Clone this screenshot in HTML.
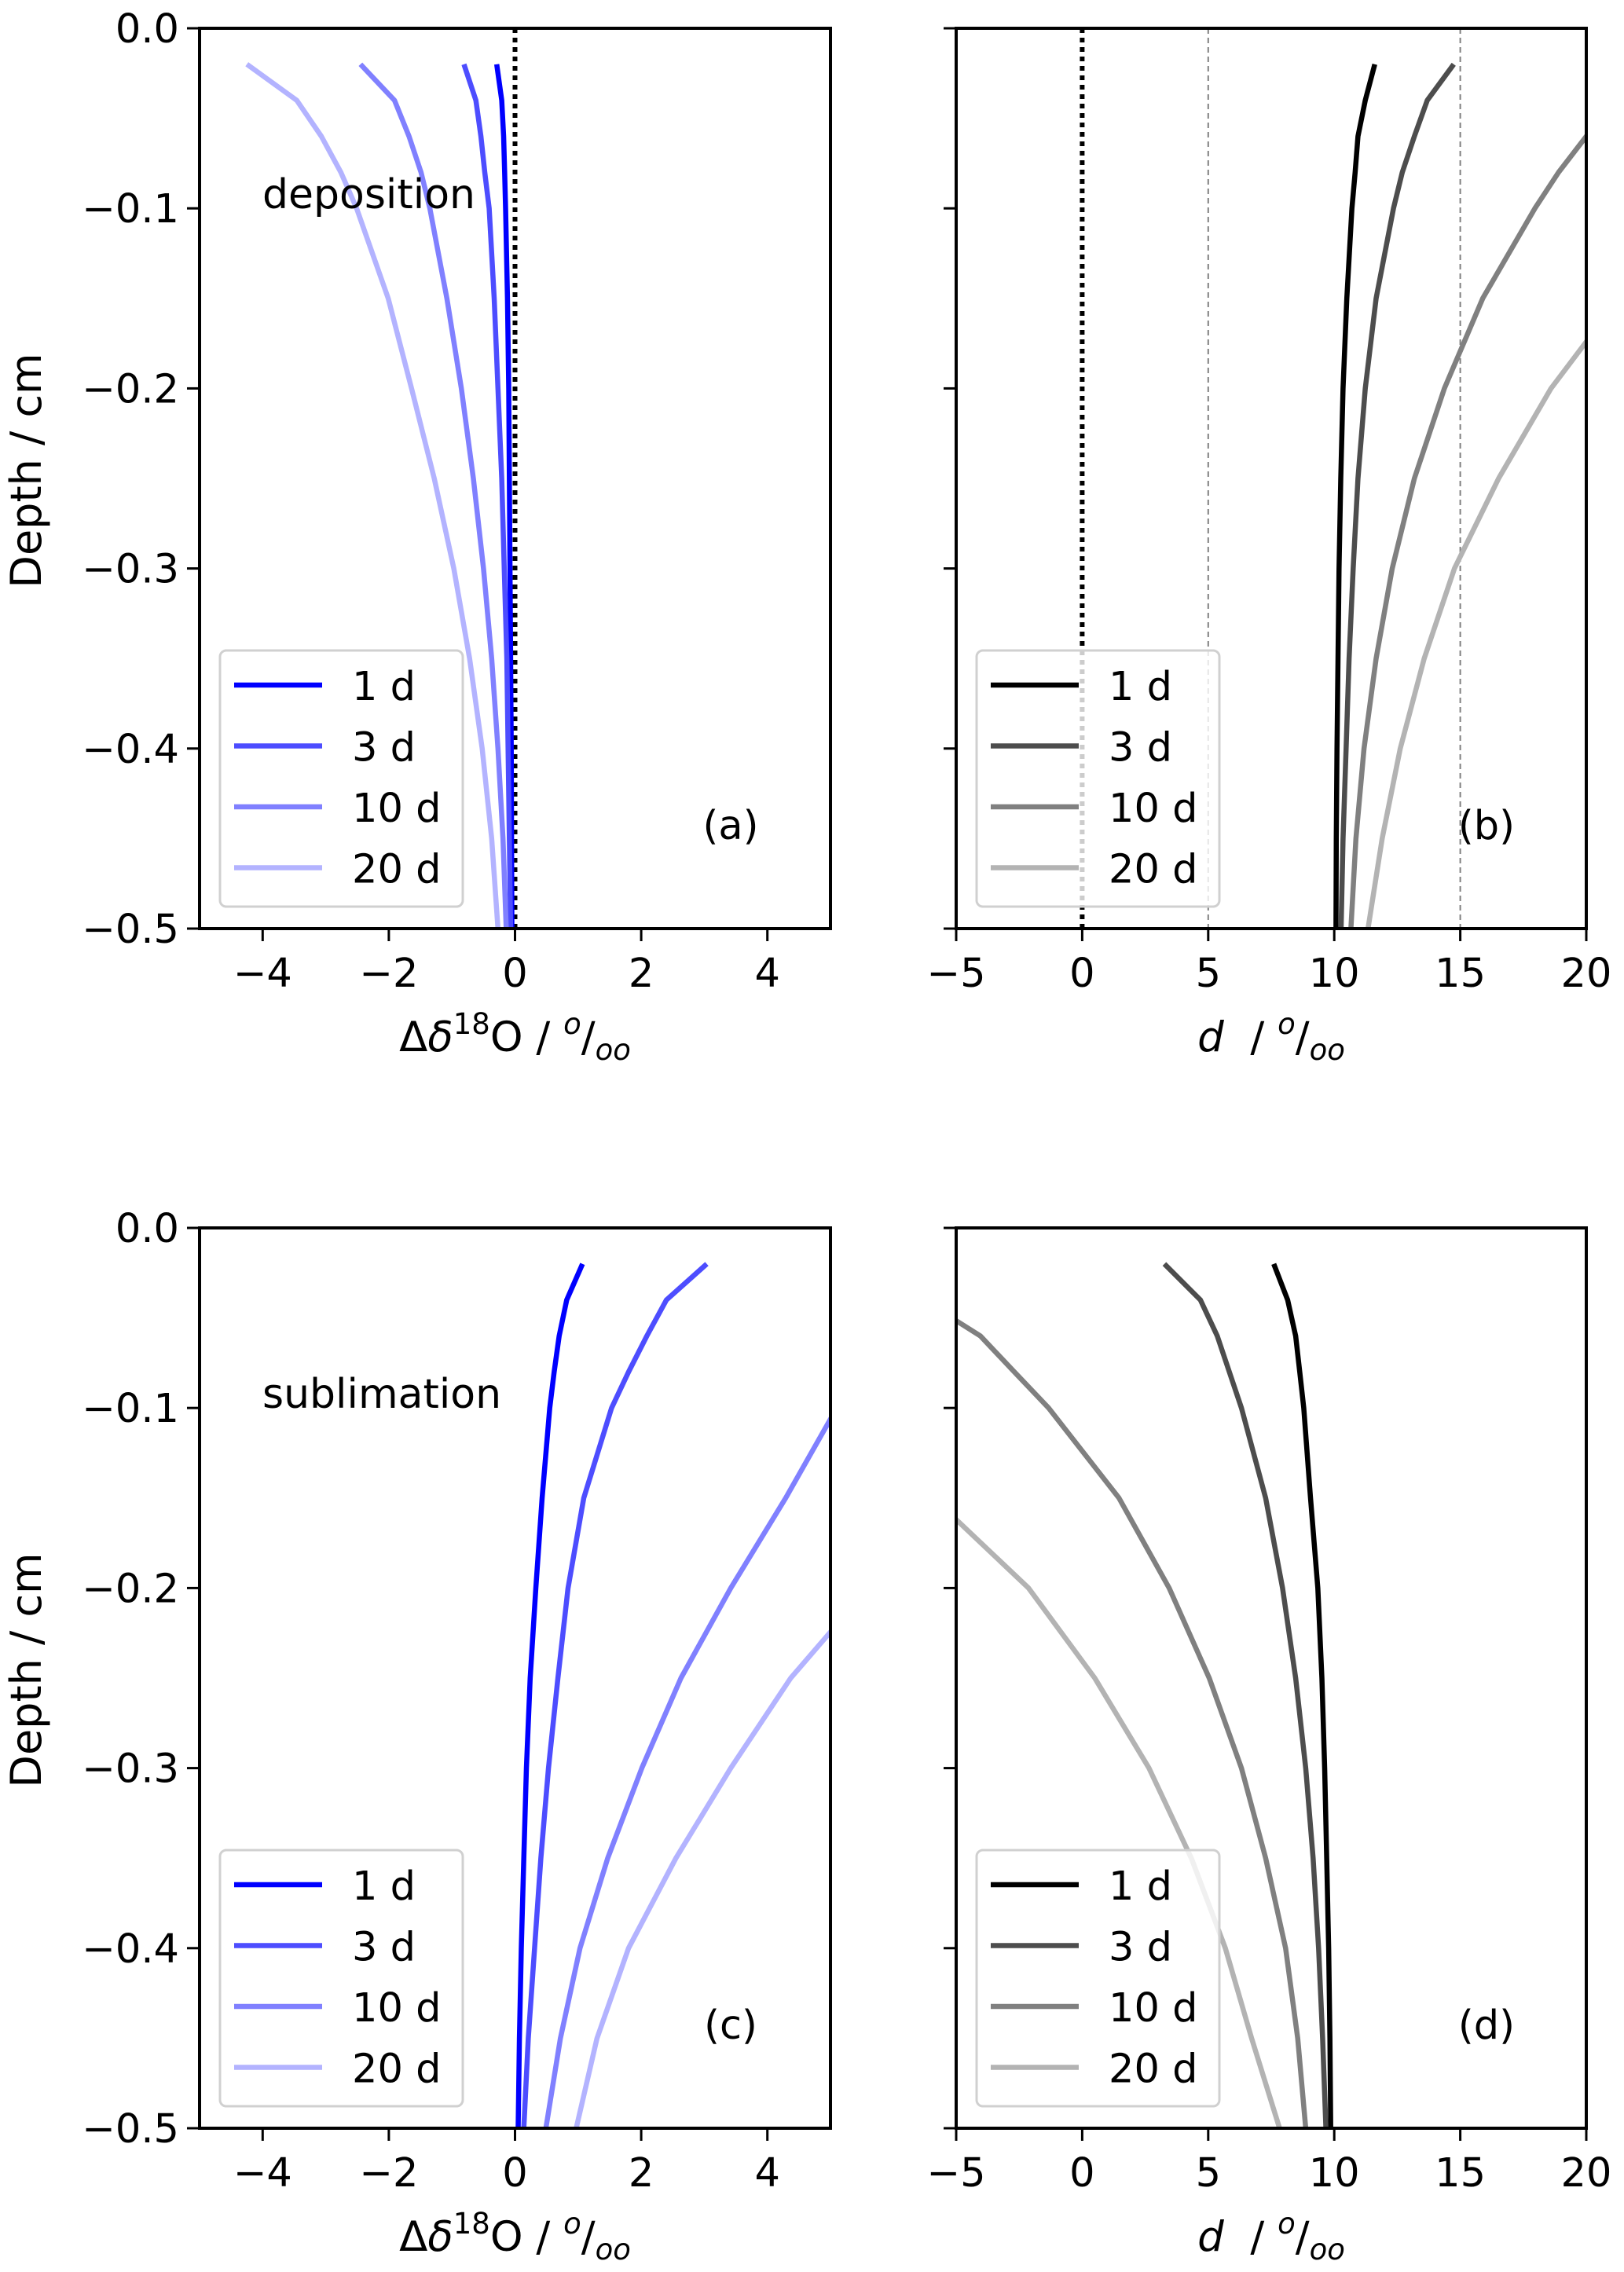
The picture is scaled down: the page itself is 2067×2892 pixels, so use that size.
<!DOCTYPE html>
<html><head><meta charset="utf-8">
<style>
html,body{margin:0;padding:0;background:#fff;}
svg{display:block;font-family:"DejaVu Sans","Liberation Sans",sans-serif;}
</style></head>
<body>
<svg id="fig" width="2067" height="2892" viewBox="0 0 2067 2892" xmlns="http://www.w3.org/2000/svg"></svg>
<script>
const depths = [-0.02,-0.04,-0.06,-0.08,-0.1,-0.15,-0.2,-0.25,-0.3,-0.35,-0.4,-0.45,-0.5];
const seriesLabels = ["1 d","3 d","10 d","20 d"];
// (a) deposition d18O
const a1 = [-0.29,-0.21,-0.18,-0.165,-0.15,-0.12,-0.1,-0.09,-0.08,-0.07,-0.06,-0.055,-0.05];
const a3 = [-0.81,-0.62,-0.54,-0.48,-0.41,-0.33,-0.27,-0.21,-0.17,-0.13,-0.11,-0.09,-0.07];
const a10 = [-2.45,-1.91,-1.68,-1.49,-1.35,-1.08,-0.85,-0.66,-0.5,-0.37,-0.27,-0.19,-0.14];
const a20 = [-4.25,-3.46,-3.07,-2.76,-2.51,-2.01,-1.64,-1.28,-0.97,-0.72,-0.52,-0.37,-0.27];
// (b) deposition d-excess
const b1 = [11.61,11.23,10.94,10.83,10.7,10.5,10.35,10.26,10.19,10.15,10.11,10.08,10.07];
const b3 = [14.74,13.69,13.18,12.7,12.35,11.66,11.23,10.94,10.75,10.59,10.47,10.35,10.27];
const b10 = [22.8,21.3,20.0,18.9,17.96,15.89,14.37,13.18,12.3,11.66,11.18,10.86,10.66];
const b20 = [28.8,27.6,26.4,25.2,24.0,21.3,18.6,16.52,14.77,13.57,12.62,11.9,11.34];
// (c) sublimation d18O
const c1 = [1.07,0.82,0.7,0.62,0.55,0.43,0.33,0.24,0.18,0.14,0.1,0.07,0.05];
const c3 = [3.04,2.4,2.09,1.8,1.53,1.09,0.84,0.68,0.53,0.41,0.31,0.21,0.14];
const c10 = [8.0,7.0,6.2,5.6,5.1,4.29,3.42,2.63,2.01,1.47,1.03,0.72,0.49];
const c20 = [11.2,10.4,9.7,9.0,8.3,6.8,5.6,4.37,3.42,2.55,1.8,1.3,0.97];
// (d) sublimation d-excess
const d1 = [7.6,8.15,8.47,8.63,8.79,9.06,9.35,9.51,9.62,9.7,9.78,9.83,9.86];
const d3 = [3.26,4.69,5.36,5.84,6.32,7.28,7.95,8.47,8.87,9.16,9.38,9.54,9.67];
const d10 = [-8.0,-6.3,-4.04,-2.69,-1.33,1.46,3.45,5.04,6.32,7.28,8.07,8.55,8.87];
const d20 = [-12.5,-11.5,-10.5,-9.5,-8.5,-5.9,-2.13,0.5,2.65,4.33,5.68,6.72,7.83];
const yTicks = [0.0,-0.1,-0.2,-0.3,-0.4,-0.5];
const xTicksO = [-4,-2,0,2,4];
const xTicksD = [-5,0,5,10,15,20];
const blues = ["#0000ff","#4d4dff","#8080ff","#b3b3ff"];
const greys = ["#000000","#4d4d4d","#808080","#b3b3b3"];

const NS="http://www.w3.org/2000/svg";
const svg=document.getElementById('fig');
function mk(tag,attrs,parent){const e=document.createElementNS(NS,tag);for(const k in attrs)e.setAttribute(k,attrs[k]);(parent||svg).appendChild(e);return e;}

function panel(opt){
  const L=opt.L,R=opt.R,T=opt.T,B=opt.B;
  const g=mk('g',{});
  
  
  const xs=v=>L+(v-opt.xmin)/(opt.xmax-opt.xmin)*(R-L);
  const ys=v=>T+(-v)/0.5*(B-T);
  const cid='clip-'+opt.name;
  const cp=mk('clipPath',{id:cid},g);mk('rect',{x:L,y:T,width:R-L,height:B-T},cp);
  const plot=mk('g',{'clip-path':'url(#'+cid+')'},g);
  (opt.vlines||[]).forEach(v=>{
    const ln=mk('line',{x1:xs(v.x),x2:xs(v.x),y1:T,y2:B,stroke:v.c,'stroke-width':v.w,'stroke-dasharray':v.d},plot);
    
    
  });
  opt.series.forEach((s,i)=>{
    const pts=depths.map((d,j)=>xs(s[j]).toFixed(1)+','+ys(d).toFixed(1)).join(' ');
    const pl=mk('polyline',{points:pts,fill:'none',stroke:opt.colors[i],'stroke-width':6.5,'stroke-linejoin':'round'},plot);
    
    
  });
  mk('rect',{x:L,y:T,width:R-L,height:B-T,fill:'none',stroke:'#000','stroke-width':4},g);
  yTicks.forEach(t=>{
    const y=ys(t);
    mk('line',{x1:L-16,x2:L,y1:y,y2:y,stroke:'#000','stroke-width':3},g);
    if(opt.ylabels){
      const tx=mk('text',{x:L-26,y:y+18,'font-size':51,'text-anchor':'end'},g);
      tx.textContent=(t===0?'0.0':'\u2212'+Math.abs(t).toFixed(1));
      
      
    }
  });
  opt.xticks.forEach(t=>{
    const x=xs(t);
    mk('line',{x1:x,x2:x,y1:B,y2:B+16,stroke:'#000','stroke-width':3},g);
    const tx=mk('text',{x:x,y:B+74,'font-size':51,'text-anchor':'middle'},g);
    tx.textContent=(t<0?'\u2212'+Math.abs(t):String(t));
    
    
  });
  const xt=mk('text',{x:(L+R)/2,y:B+156,'font-size':53,'text-anchor':'middle'},g);
  
  
  if(opt.kind==='o'){
    xt.innerHTML='\u0394<tspan font-style="italic">\u03b4</tspan><tspan font-size="37" dy="-22">18</tspan><tspan dy="22">O / </tspan><tspan font-style="italic" font-size="37" dy="-22">o</tspan><tspan dy="22">/</tspan><tspan font-style="italic" font-size="37" dy="11">oo</tspan>';
  } else {
    xt.innerHTML='<tspan font-style="italic">d</tspan>\u00a0 / <tspan font-style="italic" font-size="37" dy="-22">o</tspan><tspan dy="22">/</tspan><tspan font-style="italic" font-size="37" dy="11">oo</tspan>';
  }
  if(opt.ylabels){
    const yl=mk('text',{x:0,y:0,'font-size':54,'text-anchor':'middle',transform:'translate('+(L-202)+','+((T+B)/2-10)+') rotate(-90)'},g);
    yl.textContent='Depth / cm';
    
    
  }
  const lx=L+26, ly=B-354;
  const lg=mk('g',{},g);
  
  
  mk('rect',{x:lx,y:ly,width:309,height:326,rx:8,fill:'#fff','fill-opacity':0.8,stroke:'#d0d0d0','stroke-width':3},lg);
  seriesLabels.forEach((s,i)=>{
    const yy=ly+44+i*77.5;
    const ln=mk('line',{x1:lx+18,x2:lx+130,y1:yy,y2:yy,stroke:opt.colors[i],'stroke-width':6.5},lg);
    
    
    const t=mk('text',{x:lx+168,y:yy+19,'font-size':51},lg);
    t.textContent=s;
    
    
  });
  const pl=mk('text',{x:R-127,y:B-114,'font-size':51,'text-anchor':'middle'},g);
  pl.textContent=opt.tag;
  
  
  if(opt.note){
    const n=mk('text',{x:334,y:opt.T+229,'font-size':52},g);
    n.textContent=opt.note;
    
    
  }
}
const LT=36,LB=1182,BT=1563,BB=2709;
panel({name:'panel-a',L:254,R:1057,T:LT,B:LB,xmin:-5,xmax:5,series:[a1,a3,a10,a20],colors:blues,xticks:xTicksO,ylabels:true,kind:'o',tag:'(a)',note:'deposition',
  vlines:[{x:0,c:'#000',w:6,d:'6,6'}]});
panel({name:'panel-b',L:1217,R:2019,T:LT,B:LB,xmin:-5,xmax:20,series:[b1,b3,b10,b20],colors:greys,xticks:xTicksD,ylabels:false,kind:'d',tag:'(b)',
  vlines:[{x:0,c:'#000',w:6,d:'6,6'},{x:5,c:'#808080',w:2,d:'7,5'},{x:15,c:'#808080',w:2,d:'7,5'}]});
panel({name:'panel-c',L:254,R:1057,T:BT,B:BB,xmin:-5,xmax:5,series:[c1,c3,c10,c20],colors:blues,xticks:xTicksO,ylabels:true,kind:'o',tag:'(c)',note:'sublimation'});
panel({name:'panel-d',L:1217,R:2019,T:BT,B:BB,xmin:-5,xmax:20,series:[d1,d3,d10,d20],colors:greys,xticks:xTicksD,ylabels:false,kind:'d',tag:'(d)'});
</script>
</body></html>
